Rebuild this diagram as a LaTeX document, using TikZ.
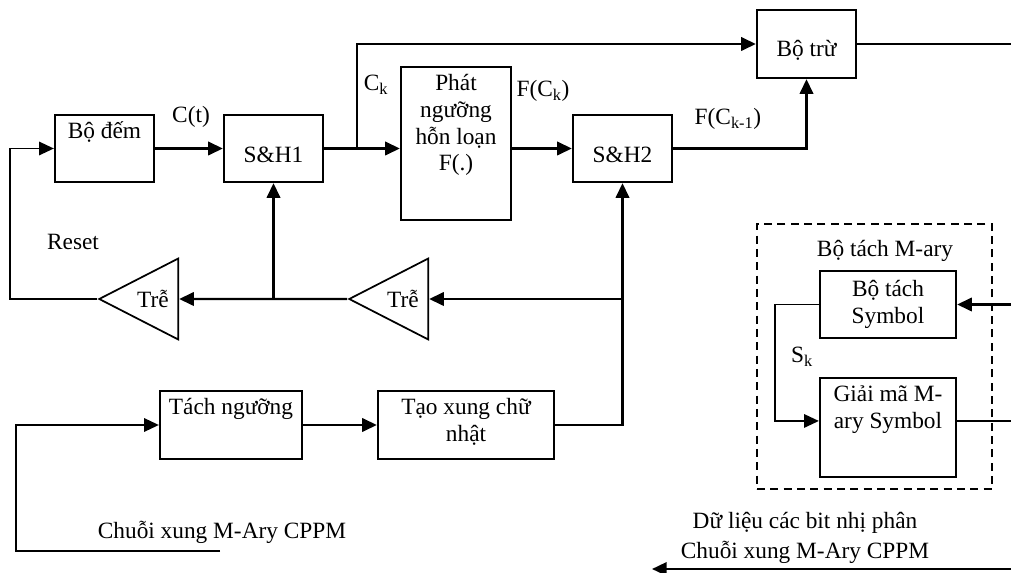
\documentclass[tikz,border=0pt]{standalone}
\usepackage{fontspec}
\setmainfont{Liberation Serif}
\usetikzlibrary{arrows.meta,positioning,shapes.geometric}

\begin{document}
\begin{tikzpicture}[x=0.75pt,y=-0.75pt,
  font=\fontsize{17.5}{20}\selectfont,
  blk/.style={draw,line width=1.7pt,inner sep=0pt},
  shbox/.style={blk,text height=21.5pt},
  % text height counts down to the baseline of the last line
  txt/.style={align=center,inner xsep=2pt,inner ysep=1.6pt,text height=#1},
  txt/.default=17pt,
  lab/.style={inner sep=0pt},
  tre/.style={draw,line width=1.3pt,isosceles triangle,isosceles triangle stretches,
              shape border rotate=180,minimum width=60.75pt,minimum height=59.25pt,inner sep=0pt},
  mbox/.style={draw,line width=1.3pt,dash pattern=on 6pt off 4pt,
               minimum width=176.25pt,minimum height=198.75pt},
  ar/.style={-{Triangle[length=11pt,width=10pt]},line width=1.8pt},
  wire/.style={line width=1.8pt},
  thin/.style={line width=1.3pt}]

\useasboundingbox (0,0) rectangle (1011,573);

% upper chain
\node[blk,minimum width=74.25pt,minimum height=50.25pt] (dem) at (104.5,148.5) {};
\node[shbox,minimum width=74.25pt,minimum height=50.25pt] (sh1) at (273.5,148.5) {S\&H1};
\node[blk,minimum width=82.5pt,minimum height=114.75pt] (phat) at (456,143.5) {};
\node[shbox,minimum width=74.25pt,minimum height=50.25pt] (sh2) at (622.5,148.5) {S\&H2};
\node[shbox,text height=22pt,minimum width=74.25pt,minimum height=51pt] (tru) at (806.5,44) {Bộ trừ};

\node[txt,anchor=north] (demt) at (dem.north) {Bộ đếm};
\node[txt=77pt,anchor=north] (phatt) at (phat.north) {Phát\\ngưỡng\\hỗn loạn\\F(.)};

% delay stages
\node[tre,anchor=apex] (tre1) at (97,299) {Trễ};
\node[tre,anchor=apex] (tre2) at (347,299) {Trễ};

% pulse shaping
\node[blk,minimum width=106.5pt,minimum height=51pt] (tach) at (231,425) {};
\node[blk,minimum width=132pt,minimum height=51pt] (taoxung) at (466,425) {};
\node[txt,anchor=north] (tacht) at (tach.north) {Tách ngưỡng};
\node[txt=37pt,anchor=north] (taot) at (taoxung.north) {Tạo xung chữ\\nhật};

% M-ary detector
\node[mbox] (mary) at (874.5,356.5) {};
\node[lab] (lmary) at (885,251) {Bộ tách M-ary};
\node[blk,align=center,minimum width=102pt,minimum height=50.25pt] (symb) at (888,304.5) {Bộ tách\\Symbol};
\node[blk,minimum width=102pt,minimum height=74.25pt] (giaima) at (888,427.5) {};
\node[txt=37pt,anchor=north] (giait) at (giaima.north) {Giải mã M-\\ary Symbol};

% free ends
\coordinate (rs) at (10,299);
\coordinate (br1) at (357,148.5);
\coordinate (trout) at (1011,44);
\coordinate (cin) at (220,551);
\coordinate (cinc) at (16,551);
\coordinate (symin) at (1011,304.5);
\coordinate (sk) at (775,304.5);
\coordinate (gout) at (1011,421);
\coordinate (bin) at (1011,569);
\coordinate (bout) at (652,569);

% connectors
\draw[ar] (dem) -- (sh1);
\draw[ar] (sh1.east) -- (sh1.east -| phat.west);
\draw[ar] (br1) |- (tru.west);
\draw[ar] (phat.east |- sh2.west) -- (sh2.west);
\draw[ar] (sh2.east) -| (tru.south);
\draw[wire] (tru.east) -- (trout);
\draw[ar] (taoxung.east) -| (sh2.south);
\draw[ar] (sh2.south |- tre2.east) -- (tre2.east);
\draw[ar] (tre2.apex) -- (tre1.east);
\draw[ar] (sh1.south |- tre1.east) -- (sh1.south);
\draw[ar,thin] (tre1.apex) -- (rs) |- (dem.west);
\draw[ar,thin] (cin) -- (cinc) |- (tach.west);
\draw[ar] (tach) -- (taoxung);
\draw[ar] (symin) -- (symb);
\draw[ar,thin] (symb.west) -- (sk) |- ([yshift=4.9pt]giaima.west);
\draw[thin] ([yshift=4.9pt]giaima.east) -- (gout);
\draw[ar] (bin) -- (bout);

% signal labels
\node[lab] (lct) at (191,117) {C(t)};
\node[lab] (lck) at (376,85) {C\textsubscript{k}};
\node[lab] (lfck) at (543,91) {F(C\textsubscript{k})};
\node[lab] (lfck1) at (728,119) {F(C\textsubscript{k-1})};
\node[lab] (lrs) at (73,242) {Reset};
\node[lab] (lsk) at (802,357) {S\textsubscript{k}};
\node[lab] (lin) at (222,532) {Chuỗi xung M-Ary CPPM};
\node[lab] (lout1) at (805,523) {Dữ liệu các bit nhị phân};
\node[lab] (lout2) at (805,552) {Chuỗi xung M-Ary CPPM};
\end{tikzpicture}
\end{document}
